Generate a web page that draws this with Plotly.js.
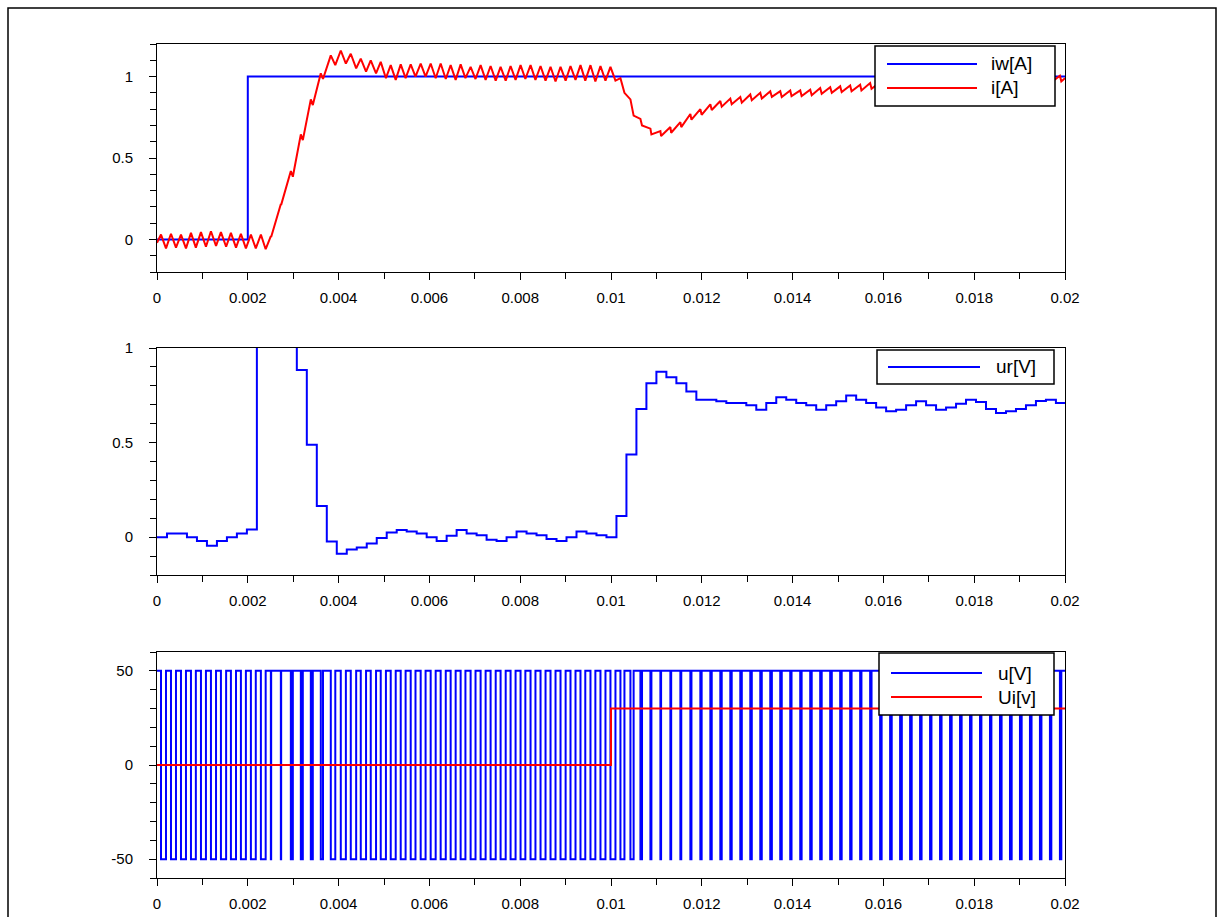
<!DOCTYPE html>
<html>
<head>
<meta charset="utf-8">
<script src="https://cdn.plot.ly/plotly-3.0.1.min.js"></script>
<style>
  html, body { margin: 0; padding: 0; background: #fff; }
  #chart { width: 1224px; height: 917px; }
</style>
</head>
<body>
<div id="chart"></div>
<script>
// ---------------- data ----------------
const xRange = [0, 0.02];
const xTickVals = [0, 0.002, 0.004, 0.006, 0.008, 0.01, 0.012, 0.014, 0.016, 0.018, 0.02];
const xTickText = ['0', '0.002', '0.004', '0.006', '0.008', '0.01', '0.012', '0.014', '0.016', '0.018', '0.02'];

// PWM / controller sample period [s] and phase of the falling edge inside a period
const samplePeriod = 0.00022;
const pwmPhase = 0.4;

// reference current iw[A]
const iwTimes = [0, 0.002, 0.02];
const iwValues = [0, 1, 1];

// measured current i[A]: value at t=0, ripple peaks (at falling edge) and troughs (at rising edge)
const iStart = -0.02;
const iPeak = [
  0.03, 0.035, 0.03, 0.04, 0.045, 0.05, 0.045, 0.04, 0.035, 0.03, 0.03,
  0.02, 0.217, 0.42, 0.645, 0.86, 1.02, 1.13, 1.16, 1.14, 1.11,
  1.10, 1.09, 1.07, 1.075, 1.075, 1.08, 1.08, 1.08, 1.07, 1.075,
  1.06, 1.07, 1.065, 1.06, 1.065, 1.07, 1.07, 1.065, 1.06, 1.06,
  1.065, 1.07, 1.07, 1.065, 1.06, 0.99, 0.86, 0.74, 0.68, 0.665,
  0.69, 0.72, 0.77, 0.80, 0.83, 0.85, 0.865, 0.875, 0.89, 0.90,
  0.91, 0.91, 0.915, 0.915, 0.92, 0.93, 0.935, 0.94, 0.945, 0.95,
  0.96, 0.965, 0.965, 0.97, 0.97, 0.975, 0.975, 0.98, 0.98, 0.985,
  0.985, 0.99, 0.99, 0.99, 0.995, 0.995, 1.0, 1.0, 1.0, 1.005
];
const iTrough = [
  -0.055, -0.05, -0.055, -0.05, -0.045, -0.04, -0.045, -0.05, -0.055, -0.055, -0.06,
  0.015, 0.212, 0.385, 0.61, 0.825, 0.985, 1.07, 1.08, 1.05, 1.03,
  1.02, 0.99, 0.98, 0.99, 1.0, 1.0, 0.99, 0.985, 0.98, 0.99,
  0.985, 0.98, 0.975, 0.975, 0.98, 0.985, 0.98, 0.975, 0.97, 0.975,
  0.98, 0.975, 0.97, 0.975, 0.975, 0.90, 0.76, 0.70, 0.645, 0.635,
  0.655, 0.69, 0.735, 0.765, 0.795, 0.815, 0.83, 0.84, 0.855, 0.865,
  0.875, 0.875, 0.88, 0.88, 0.885, 0.895, 0.90, 0.905, 0.91, 0.915,
  0.925, 0.93, 0.93, 0.935, 0.935, 0.94, 0.94, 0.945, 0.945, 0.95,
  0.95, 0.955, 0.955, 0.955, 0.96, 0.96, 0.965, 0.965, 0.965, 0.97
];
const iEnd = 0.99;

// controller output ur[V], one value per sample period
const urValues = [
  0, 0.02, 0.02, 0, -0.02, -0.045, -0.02, 0, 0.02, 0.04,
  2.6, 2.2, 1.8, 1.4, 0.884, 0.488, 0.165, -0.023, -0.088, -0.065,
  -0.054, -0.033, -0.004, 0.025, 0.038, 0.03, 0.02, 0, -0.02, 0.007,
  0.038, 0.02, 0.01, -0.014, -0.02, 0, 0.03, 0.02, 0.01, -0.01,
  -0.02, 0, 0.03, 0.02, 0.01, 0, 0.112, 0.437, 0.677, 0.814,
  0.874, 0.846, 0.814, 0.77, 0.726, 0.726, 0.718, 0.709, 0.709, 0.697,
  0.674, 0.709, 0.739, 0.726, 0.709, 0.697, 0.674, 0.697, 0.718, 0.749,
  0.726, 0.709, 0.686, 0.665, 0.674, 0.697, 0.718, 0.697, 0.674, 0.686,
  0.705, 0.726, 0.714, 0.677, 0.656, 0.665, 0.677, 0.697, 0.72, 0.726,
  0.709
];

// PWM voltage u[V]: high fraction of each period, and the two levels
const pwmDuty = [
  0.5, 0.5, 0.5, 0.51, 0.5, 0.49, 0.48, 0.49, 0.5, 0.51, 0.52,
  0.97, 0.97, 0.8, 0.8, 0.8, 0.78, 0.55, 0.49, 0.46, 0.47,
  0.47, 0.48, 0.5, 0.51, 0.52, 0.51, 0.5, 0.49, 0.5, 0.52,
  0.51, 0.5, 0.49, 0.49, 0.5, 0.52, 0.51, 0.5, 0.5, 0.49,
  0.5, 0.52, 0.51, 0.5, 0.5, 0.6, 0.68, 0.84, 0.9, 0.93,
  0.92, 0.91, 0.89, 0.87, 0.86, 0.86, 0.86, 0.85, 0.85, 0.85,
  0.84, 0.85, 0.87, 0.86, 0.85, 0.85, 0.84, 0.85, 0.86, 0.87,
  0.86, 0.85, 0.84, 0.83, 0.84, 0.85, 0.86, 0.85, 0.84, 0.84,
  0.85, 0.86, 0.86, 0.84, 0.83, 0.83, 0.84, 0.85, 0.86, 0.86
];
const uHigh = 50;
const uLow = -50;

// induced voltage Ui[v]
const uiTimes = [0, 0.01, 0.02];
const uiValues = [0, 30, 30];

// ---------------- build traces ----------------
const iX = [0], iY = [iStart];
const uX = [0], uY = [uHigh];
for (let j = 0; j < pwmDuty.length; j++) {
  const tFall = (j + pwmPhase) * samplePeriod;
  const tRise = tFall + (1 - pwmDuty[j]) * samplePeriod;
  iX.push(tFall, tRise); iY.push(iPeak[j], iTrough[j]);
  uX.push(tFall, tRise); uY.push(uLow, uHigh);
}
iX.push(xRange[1]); iY.push(iEnd);
uX.push(xRange[1]); uY.push(uHigh);

const urX = urValues.map((_, k) => k * samplePeriod);
const urY = urValues.slice();
urX.push(xRange[1]); urY.push(urValues[urValues.length - 1]);

const BLUE = '#0000ff', RED = '#ff0000';
const traces = [
  { x: iwTimes, y: iwValues, name: 'iw[A]', mode: 'lines', line: { color: BLUE, width: 2, shape: 'hv' }, xaxis: 'x', yaxis: 'y', showlegend: false },
  { x: iX, y: iY, name: 'i[A]', mode: 'lines', line: { color: RED, width: 2 }, xaxis: 'x', yaxis: 'y', showlegend: false },
  { x: urX, y: urY, name: 'ur[V]', mode: 'lines', line: { color: BLUE, width: 2, shape: 'hv' }, xaxis: 'x2', yaxis: 'y2', showlegend: false },
  { x: uX, y: uY, name: 'u[V]', mode: 'lines', line: { color: BLUE, width: 2, shape: 'hv' }, xaxis: 'x3', yaxis: 'y3', showlegend: false },
  { x: uiTimes, y: uiValues, name: 'Ui[v]', mode: 'lines', line: { color: RED, width: 2, shape: 'hv' }, xaxis: 'x3', yaxis: 'y3', showlegend: false }
];

// ---------------- layout ----------------
const W = 1224, H = 917;
const px = v => v / W;
const py = v => 1 - v / H;
const FONT = 'Liberation Sans, Arial, sans-serif';

function xAxis(anchor) {
  return {
    anchor: anchor, domain: [px(157), px(1065)], range: xRange,
    tickmode: 'array', tickvals: xTickVals, ticktext: xTickText,
    ticks: 'outside', ticklen: 7, tickwidth: 1, tickcolor: '#000',
    minor: { ticks: 'outside', ticklen: 6, tickwidth: 1, tickcolor: '#000', dtick: 0.001, tick0: 0, showgrid: false },
    showline: true, mirror: true, linecolor: '#000', linewidth: 1,
    showgrid: false, zeroline: false, ticklabelstandoff: 5,
    tickfont: { family: FONT, size: 15, color: '#000' }
  };
}
function yAxis(anchor, top, bottom, range, vals, text, minorStep) {
  return {
    anchor: anchor, domain: [py(bottom), py(top)], range: range,
    tickmode: 'array', tickvals: vals, ticktext: text,
    ticks: 'outside', ticklen: 7, tickwidth: 1, tickcolor: '#000',
    minor: { ticks: 'outside', ticklen: 6, tickwidth: 1, tickcolor: '#000', dtick: minorStep, tick0: 0, showgrid: false },
    showline: true, mirror: true, linecolor: '#000', linewidth: 1,
    showgrid: false, zeroline: false, ticklabelstandoff: 13,
    tickfont: { family: FONT, size: 15, color: '#000' }
  };
}

function legendBox(x0, x1, y0, y1) {
  return { type: 'rect', xref: 'paper', yref: 'paper', x0: px(x0), x1: px(x1), y0: py(y1), y1: py(y0),
           line: { color: '#000', width: 1.5 }, fillcolor: '#fff', layer: 'above' };
}
function legendLine(x0, x1, y, color) {
  return { type: 'line', xref: 'paper', yref: 'paper', x0: px(x0), x1: px(x1), y0: py(y), y1: py(y),
           line: { color: color, width: 2 }, layer: 'above' };
}
function legendText(x, y, text) {
  return { xref: 'paper', yref: 'paper', x: px(x), y: py(y), text: text, showarrow: false,
           xanchor: 'left', yanchor: 'middle', font: { family: FONT, size: 19, color: '#000' } };
}

const layout = {
  width: W, height: H,
  margin: { l: 0, r: 0, t: 0, b: 0, pad: 0 },
  paper_bgcolor: '#fff', plot_bgcolor: '#fff',
  showlegend: false,
  font: { family: FONT, size: 15, color: '#000' },
  xaxis: xAxis('y'),
  yaxis: yAxis('x', 44, 272, [-0.2, 1.2], [0, 0.5, 1], ['0', '0.5', '1'], 0.1),
  xaxis2: xAxis('y2'),
  yaxis2: yAxis('x2', 348, 575, [-0.2, 1], [0, 0.5, 1], ['0', '0.5', '1'], 0.1),
  xaxis3: xAxis('y3'),
  yaxis3: yAxis('x3', 652, 878, [-60, 60], [-50, 0, 50], ['-50', '0', '50'], 10),
  shapes: [
    { type: 'rect', xref: 'paper', yref: 'paper', x0: px(8), x1: px(1216), y0: py(940), y1: py(8),
      line: { color: '#000', width: 1.5 }, fillcolor: 'rgba(0,0,0,0)', layer: 'below' },
    legendBox(875, 1055, 46, 106),
    legendLine(887, 977, 64, BLUE),
    legendLine(887, 977, 88, RED),
    legendBox(877, 1054, 350, 384),
    legendLine(888, 980, 367, BLUE),
    legendBox(879, 1054, 653, 715),
    legendLine(891, 982, 673, BLUE),
    legendLine(891, 982, 697, RED)
  ],
  annotations: [
    legendText(989, 64, 'iw[A]'),
    legendText(989, 88, 'i[A]'),
    legendText(994, 367, 'ur[V]'),
    legendText(996, 673, 'u[V]'),
    legendText(996, 697, 'Ui[v]')
  ]
};

Plotly.newPlot('chart', traces, layout, { displayModeBar: false, responsive: false, staticPlot: true });
</script>
</body>
</html>
